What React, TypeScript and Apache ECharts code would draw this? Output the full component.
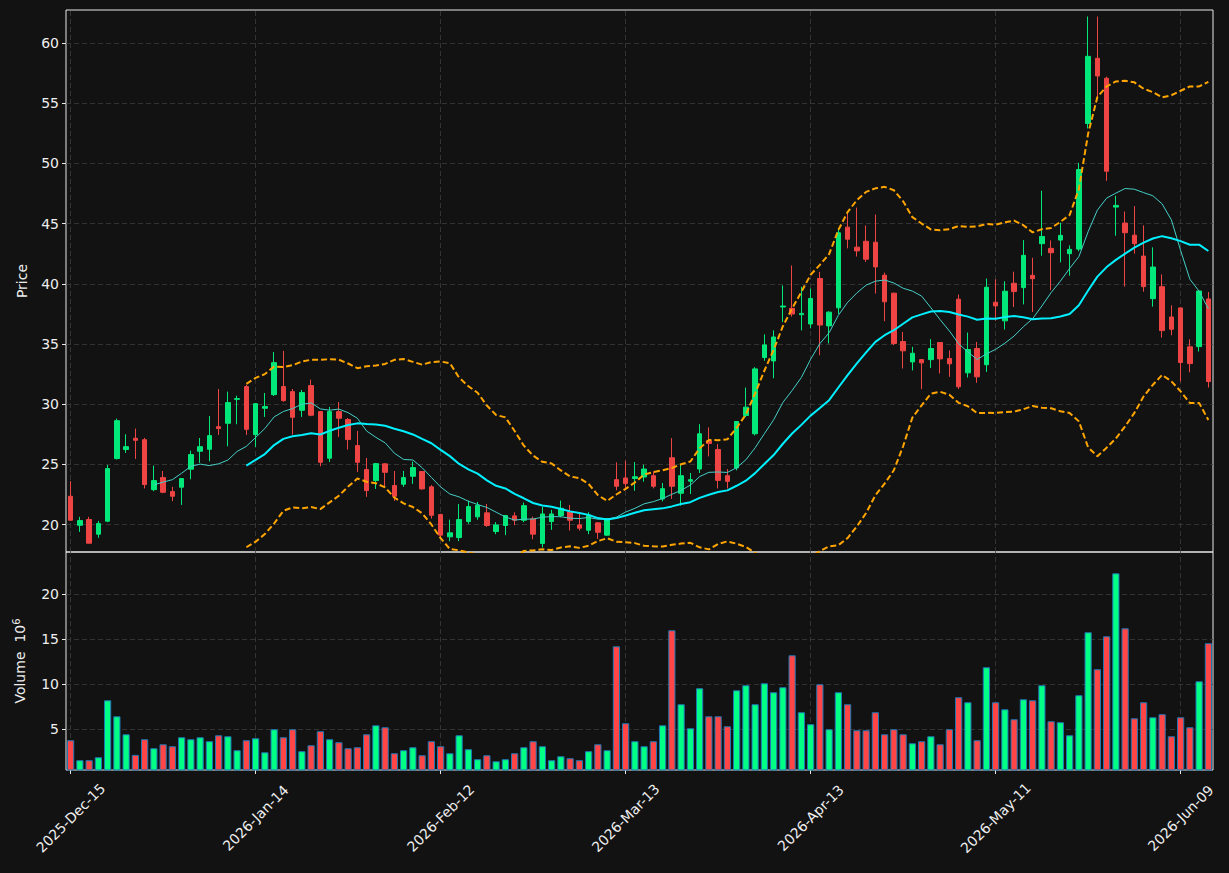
import React, { useEffect, useRef } from "react";
import * as echarts from "echarts";

// ---------- data ----------
const OPEN = [22.35,19.94,20.42,19.2,20.28,25.48,26.23,27.17,27.05,22.9,23.9,22.74,23.1,24.6,26.09,26.25,28.13,28.41,30.4,31.46,
27.47,29.66,30.79,31.46,31.04,29.49,31.54,29.38,25.51,29.38,28.72,26.56,24.57,23.65,25.04,23.24,23.35,24.01,24.4,23.13,
20.83,18.98,18.92,20.25,20.64,20.97,19.42,19.92,20.72,20.36,20.47,18.43,20.25,20.75,21.05,19.97,19.53,20.14,19.12,23.73,
23.87,23.83,23.95,24.06,22.13,25.55,22.6,23.6,24.61,26.96,26.24,24.06,24.7,29.06,27.54,33.87,33.59,38.07,37.96,37.43,
36.66,40.44,36.5,38.0,44.7,43.04,43.53,43.45,40.71,39.22,35.2,33.51,33.7,33.7,35.12,33.79,38.72,32.6,34.62,33.27,
38.47,36.92,40.04,39.68,40.7,43.33,42.94,43.63,42.5,42.88,53.31,58.73,57.07,46.37,45.04,44.04,42.3,38.76,39.76,37.24,
37.99,34.76,34.78,38.74];
const CLOSE = [20.36,20.33,18.45,20.08,24.65,28.63,26.47,27.0,23.32,23.65,22.68,22.35,23.82,25.81,26.47,27.39,27.97,30.13,30.46,27.91,
30.04,29.8,33.45,30.29,28.91,30.96,29.08,25.17,29.38,28.83,27.06,25.17,22.82,25.06,24.34,22.35,23.9,24.73,22.96,20.77,
19.12,19.31,20.41,21.49,21.6,19.92,19.97,20.75,20.36,21.57,19.2,20.88,20.88,21.35,20.36,19.7,20.77,19.36,20.5,23.18,
23.4,23.97,24.61,23.18,22.98,23.18,24.06,23.73,27.54,26.74,23.67,23.59,28.56,29.75,32.93,34.92,35.58,38.15,37.49,37.54,
38.78,36.57,37.64,44.23,43.7,42.73,42.04,41.4,38.5,35.04,34.43,34.23,33.43,34.62,33.76,33.35,31.44,34.54,32.27,39.71,
38.16,39.38,39.35,42.36,40.42,43.93,42.58,44.02,42.86,49.49,58.89,57.26,49.35,46.51,44.24,43.33,39.76,41.39,36.11,36.22,
33.46,33.37,39.4,31.88];
const HIGH = [23.6,20.64,20.64,20.3,24.95,28.8,27.5,27.97,27.2,24.9,24.45,23.13,23.82,26.14,27.19,29.02,31.26,31.04,30.7,31.6,
30.1,30.93,34.33,34.42,31.26,31.18,32.04,29.4,29.77,30.18,28.85,27.78,25.53,25.12,25.1,24.45,24.45,25.23,24.45,23.27,
20.9,20.41,21.71,21.99,21.88,21.71,20.2,20.8,21.02,21.83,20.66,21.46,21.22,21.99,21.63,20.88,21.02,20.2,20.55,25.17,
25.3,25.19,24.97,24.42,23.45,27.18,24.97,24.28,28.34,28.07,26.69,24.61,28.6,31.38,33.07,35.8,36.13,39.86,41.52,39.75,
39.61,40.99,37.72,44.59,45.97,46.33,44.84,45.75,40.93,39.27,36.0,34.76,33.75,35.4,35.15,34.46,39.1,35.95,35.17,40.43,
40.38,40.21,41.0,43.63,42.16,47.72,43.6,45.07,43.19,50.04,62.2,62.2,57.2,47.31,46.0,46.45,44.85,43.02,40.78,38.21,
38.05,35.39,39.45,39.32];
const LOW = [20.3,19.39,18.45,18.9,20.2,25.4,25.95,25.45,23.0,22.77,22.6,21.94,21.63,23.76,25.12,25.26,27.44,26.5,28.33,27.44,
26.45,28.94,30.68,30.2,27.47,28.94,29.0,24.84,25.2,27.28,26.23,24.37,22.3,22.96,23.2,21.96,23.13,23.38,22.9,20.5,
18.85,18.62,18.62,20.06,20.4,19.81,19.2,19.12,19.94,20.2,18.78,18.09,19.56,20.6,19.5,19.5,19.2,18.81,19.05,22.85,
23.0,22.8,23.56,23.0,21.93,22.13,21.57,22.54,24.28,25.66,23.0,23.0,24.5,28.92,27.4,33.6,32.15,36.82,37.27,36.13,
36.3,34.06,35.04,37.5,42.94,42.26,41.82,39.19,36.89,34.9,32.96,32.8,31.25,33.0,32.55,32.27,31.25,32.21,31.77,32.68,
36.92,36.2,38.07,38.29,37.66,42.33,39.48,41.78,40.67,42.7,52.9,55.5,48.55,43.99,39.76,42.5,39.34,38.1,35.53,35.72,
31.88,32.65,34.37,31.38];
// volume in millions
const VOLUME = [3.78,1.56,1.56,1.89,8.22,6.44,4.44,2.15,3.89,2.89,3.33,3.11,4.11,3.89,4.11,3.67,4.33,4.22,2.67,3.78,
4.0,2.44,5.0,4.11,5.0,2.56,3.22,4.78,3.89,3.56,2.89,3.0,4.44,5.44,5.22,2.33,2.67,3.0,2.11,3.67,
3.11,2.33,4.33,2.78,1.67,2.11,1.44,1.67,2.33,3.0,3.67,3.11,1.56,2.0,1.78,1.56,2.56,3.33,2.67,14.22,
5.67,3.67,3.11,3.67,5.44,16.0,7.78,5.11,9.56,6.44,6.44,5.33,9.33,9.89,7.78,10.11,9.11,9.67,13.22,6.89,
5.56,10.0,5.0,9.11,7.78,4.89,4.89,6.89,4.44,5.0,4.44,3.44,3.67,4.22,3.33,5.0,8.56,8.0,3.78,11.89,
8.0,7.22,6.11,8.33,8.22,9.89,5.89,5.78,4.33,8.78,15.78,11.67,15.33,22.33,16.22,6.22,8.0,6.33,6.67,4.22,
6.33,5.22,10.33,14.56];

const PRICE_TICKS = [20, 25, 30, 35, 40, 45, 50, 55, 60];
const VOLUME_TICKS = [5, 10, 15, 20];
const HOLIDAYS = ["2025-12-25", "2026-01-01", "2026-01-19", "2026-02-16", "2026-04-03", "2026-05-25"];
const MONTHS = ["Jan","Feb","Mar","Apr","May","Jun","Jul","Aug","Sep","Oct","Nov","Dec"];
const LABEL_EVERY = 20;

// trading-day calendar starting 2025-12-15
const DATES: string[] = [];
{
  let t = Date.UTC(2025, 11, 15);
  while (DATES.length < CLOSE.length) {
    const d = new Date(t);
    const wd = d.getUTCDay();
    const iso = d.toISOString().slice(0, 10);
    if (wd !== 0 && wd !== 6 && HOLIDAYS.indexOf(iso) < 0) {
      DATES.push(`${d.getUTCFullYear()}-${MONTHS[d.getUTCMonth()]}-${String(d.getUTCDate()).padStart(2, "0")}`);
    }
    t += 86400000;
  }
}

function sma(arr: number[], n: number): (number | string)[] {
  return arr.map((_, i) => {
    if (i < n - 1) return "-";
    let s = 0;
    for (let k = i - n + 1; k <= i; k++) s += arr[k];
    return s / n;
  });
}
function bands(arr: number[], n: number, k: number) {
  const up: (number | string)[] = [];
  const lo: (number | string)[] = [];
  arr.forEach((_, i) => {
    if (i < n - 1) { up.push("-"); lo.push("-"); return; }
    let s = 0;
    for (let j = i - n + 1; j <= i; j++) s += arr[j];
    const m = s / n;
    let v = 0;
    for (let j = i - n + 1; j <= i; j++) v += (arr[j] - m) * (arr[j] - m);
    const sd = Math.sqrt(v / n);
    up.push(m + k * sd);
    lo.push(m - k * sd);
  });
  return { up, lo };
}

const UP = "#00e87a";
const DOWN = "#ee4444";
const VUP = "#00ff85";
const VDOWN = "#ff4545";
const TXT = "#eeeeee";
const GRID = "#3c3c3c";
const FONT = "DejaVu Sans";

export default function App() {
  const ref = useRef<HTMLDivElement>(null);
  useEffect(() => {
    if (!ref.current) return;
    const chart = echarts.init(ref.current, undefined, { renderer: "svg" });
    const ohlc = OPEN.map((o, i) => [o, CLOSE[i], LOW[i], HIGH[i]]);
    const ma10 = sma(CLOSE, 10);
    const ma20 = sma(CLOSE, 20);
    const bb = bands(CLOSE, 20, 2);
    const vol = VOLUME.map((v, i) => ({
      value: v,
      itemStyle: { color: CLOSE[i] >= OPEN[i] ? VUP : VDOWN },
    }));
    const vLines = DATES.filter((_, i) => i % LABEL_EVERY === 0).map((d) => ({ xAxis: d }));
    const gridLine = { type: [5, 3] as any, color: GRID, width: 0.8 };
    const mk = (ys: number[]) => ({
      silent: true,
      symbol: ["none", "none"],
      z: 1,
      label: { show: false },
      lineStyle: gridLine,
      emphasis: { disabled: true },
      animation: false,
      data: [...vLines, ...ys.map((y) => ({ yAxis: y }))],
    });
    const labelInterval = (idx: number) => idx % LABEL_EVERY === 0;

    chart.setOption({
      animation: false,
      backgroundColor: "#121212",
      textStyle: { fontFamily: FONT },
      grid: [
        { left: 66, top: 10, width: 1147, height: 542, show: true, borderColor: "#e8e8e8", borderWidth: 1, backgroundColor: "transparent" },
        { left: 66, top: 552, width: 1147, height: 218, show: true, borderColor: "#e8e8e8", borderWidth: 1, backgroundColor: "transparent" },
      ],
      xAxis: [
        {
          type: "category", gridIndex: 0, data: DATES, boundaryGap: true,
          axisLine: { show: false }, axisTick: { show: false }, axisLabel: { show: false }, splitLine: { show: false },
        },
        {
          type: "category", gridIndex: 1, data: DATES, boundaryGap: true,
          axisLine: { show: false },
          axisTick: { show: true, alignWithLabel: true, interval: labelInterval, length: 4, lineStyle: { color: "#e8e8e8" } },
          axisLabel: {
            show: true, interval: labelInterval, rotate: 45, color: TXT, fontSize: 14, fontFamily: FONT,
            margin: 48, align: "center", verticalAlign: "middle",
          },
          splitLine: { show: false },
        },
      ],
      yAxis: [
        {
          type: "value", gridIndex: 0, min: 17.72, max: 62.74, scale: true,
          name: "Price", nameLocation: "middle", nameGap: 37,
          nameTextStyle: { color: TXT, fontSize: 14, fontFamily: FONT },
          axisLine: { show: false },
          axisTick: { show: true, customValues: PRICE_TICKS, length: 4, lineStyle: { color: "#e8e8e8" } },
          axisLabel: { show: true, customValues: PRICE_TICKS, color: TXT, fontSize: 14, fontFamily: FONT, margin: 7 },
          splitLine: { show: false },
        },
        {
          type: "value", gridIndex: 1, min: 0.47, max: 24.7, scale: true,
          name: "{a|Volume  10}{b|6}", nameLocation: "middle", nameGap: 37,
          nameTextStyle: {
            color: TXT, fontSize: 14, fontFamily: FONT,
            rich: {
              a: { color: TXT, fontSize: 14, fontFamily: FONT, lineHeight: 18 },
              b: { color: TXT, fontSize: 10, fontFamily: FONT, verticalAlign: "top", lineHeight: 12 },
            },
          },
          axisLine: { show: false },
          axisTick: { show: true, customValues: VOLUME_TICKS, length: 4, lineStyle: { color: "#e8e8e8" } },
          axisLabel: { show: true, customValues: VOLUME_TICKS, color: TXT, fontSize: 14, fontFamily: FONT, margin: 7 },
          splitLine: { show: false },
        },
      ],
      series: [
        {
          type: "candlestick", name: "Price", xAxisIndex: 0, yAxisIndex: 0, data: ohlc, barWidth: 4.8, z: 3,
          itemStyle: { color: UP, color0: DOWN, borderColor: UP, borderColor0: DOWN, borderWidth: 1 },
          markLine: mk(PRICE_TICKS),
        },
        {
          type: "line", name: "MA10", xAxisIndex: 0, yAxisIndex: 0, data: ma10, showSymbol: false, symbol: "none",
          lineStyle: { color: "#45cfc8", width: 1 }, z: 4,
        },
        {
          type: "line", name: "MA20", xAxisIndex: 0, yAxisIndex: 0, data: ma20, showSymbol: false, symbol: "none",
          lineStyle: { color: "#00f0ff", width: 2 }, z: 4,
        },
        {
          type: "line", name: "BBU", xAxisIndex: 0, yAxisIndex: 0, data: bb.up, showSymbol: false, symbol: "none",
          lineStyle: { color: "#ffa500", width: 2, type: [6, 3] }, z: 4,
        },
        {
          type: "line", name: "BBL", xAxisIndex: 0, yAxisIndex: 0, data: bb.lo, showSymbol: false, symbol: "none",
          lineStyle: { color: "#ffa500", width: 2, type: [6, 3] }, z: 4,
        },
        {
          type: "bar", name: "Volume", xAxisIndex: 1, yAxisIndex: 1, data: vol, barWidth: 7.2, z: 3,
          itemStyle: { borderColor: "#1f77b4", borderWidth: 1 },
          markLine: mk(VOLUME_TICKS),
        },
      ],
    });
    return () => chart.dispose();
  }, []);
  return (
    <div
      ref={ref}
      style={{ position: "fixed", left: 0, top: 0, width: 1229, height: 873, background: "#121212" }}
    />
  );
}
